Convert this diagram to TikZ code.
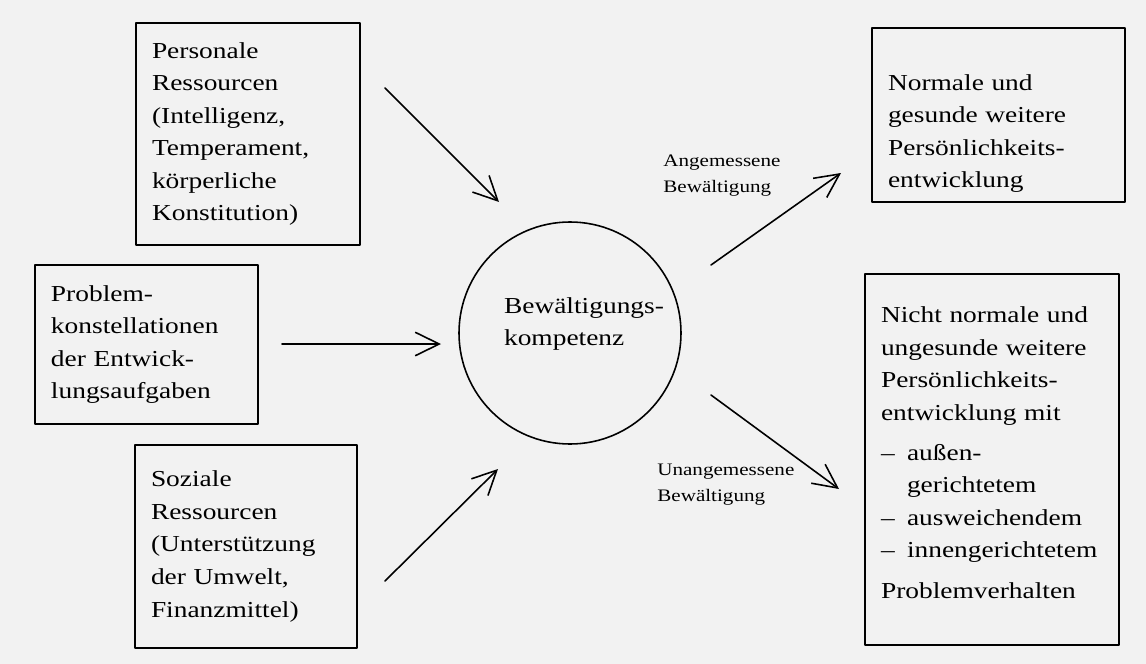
\documentclass[tikz,border=0pt]{standalone}
\usepackage{fontspec}
\setmainfont{Liberation Serif}[FakeStretch=1.2]
\usetikzlibrary{arrows.meta, positioning, calc}
\hyphenpenalty=10000

\begin{document}
\begin{tikzpicture}[>={Straight Barb[length=4.8mm,width=4.7mm]}, line join=round, line cap=round,
    kasten/.style={draw, line width=0.9pt, align=left, inner xsep=0.32cm, inner ysep=0pt, font=\fontsize{13pt}{18.5pt}\selectfont},
    kreis/.style={draw, circle, line width=0.9pt, minimum size=4.44cm, inner sep=0pt, align=left, font=\fontsize{13pt}{18.5pt}\selectfont},
    lbl/.style={anchor=base west, inner sep=0pt, align=left, text width=3cm, font=\fontsize{10pt}{15pt}\selectfont},
    pfeil/.style={->, line width=0.9pt}]
      \path[use as bounding box, fill=black!5] (0,0) rectangle (22.92,-13.28);
      % linke Seite
      \node[kasten, text width=3.84cm, minimum height=4.44cm] (pers) at (4.96,-2.68) {Personale\\Ressourcen\\(Intelligenz,\\Temperament,\\körperliche\\Konstitution)};
      \node[kasten, text width=3.82cm, minimum height=3.18cm] (prob) at (2.93,-6.89) {Problem-\\konstellationen\\der Entwick-\\lungsaufgaben};
      \node[kasten, text width=3.80cm, minimum height=4.06cm] (soz) at (4.92,-10.93) {Soziale\\Ressourcen\\(Unterstützung\\der Umwelt,\\Finanzmittel)};
      % Mitte
      \node[kreis] (komp) at (11.4,-6.66) {\hspace*{0.56cm}Bewältigungs-\\\hspace*{0.56cm}kompetenz\rule[-0.46cm]{0pt}{0.46cm}};
      % rechte Seite
      \node[kasten, text width=4.42cm, minimum height=3.48cm] (norm) at (19.97,-2.30) {\rule{0pt}{1.05cm}Normale und\\gesunde weitere\\Persönlichkeits-\\entwicklung};
      \node[kasten, text width=4.44cm, minimum height=7.42cm] (nnorm) at (19.84,-9.19) {Nicht normale und\\ungesunde weitere\\Persönlichkeits-\\entwicklung mit\\[4.3pt]\makebox[0.52cm][l]{--}außen-\\\hspace*{0.52cm}gerichtetem\\\makebox[0.52cm][l]{--}ausweichendem\\\makebox[0.52cm][l]{--}innengerichtetem\\[4.3pt]Problemverhalten\rule[-0.28cm]{0pt}{0.28cm}};
      \node[lbl] (angem) at (13.26,-3.32) {Angemessene\\Bewältigung};
      \node[lbl] (unangem) at (13.14,-9.50) {Unangemessene\\Bewältigung};
      % Pfeile
      \coordinate (p1s) at (7.70,-1.76);  \coordinate (p1e) at (9.98,-4.04);
      \coordinate (p2s) at (5.64,-6.88);  \coordinate (p2e) at (8.82,-6.88);
      \coordinate (p3s) at (7.70,-11.62); \coordinate (p3e) at (9.96,-9.38);
      \coordinate (p4s) at (14.22,-5.30); \coordinate (p4e) at (16.82,-3.46);
      \coordinate (p5s) at (14.22,-7.90); \coordinate (p5e) at (16.78,-9.78);
      \draw[pfeil] (p1s) -- (p1e);
      \draw[pfeil] (p2s) -- (p2e);
      \draw[pfeil] (p3s) -- (p3e);
      \draw[pfeil] (p4s) -- (p4e);
      \draw[pfeil] (p5s) -- (p5e);
    \end{tikzpicture}
\end{document}
